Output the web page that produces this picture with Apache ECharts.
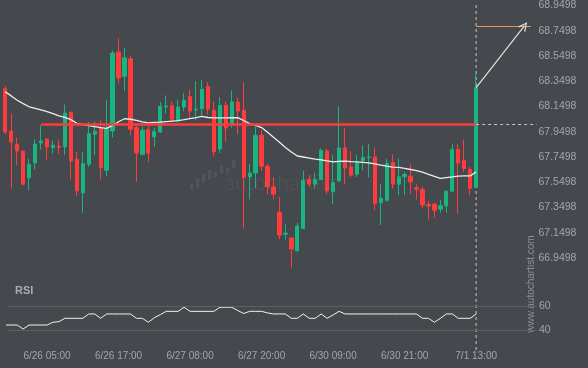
<!DOCTYPE html>
<html><head><meta charset="utf-8">
<script src="https://cdn.jsdelivr.net/npm/echarts@6/dist/echarts.min.js"></script>
<style>html,body{margin:0;padding:0;background:#45484c;}#c{width:588px;height:368px;}</style>
</head><body><div id="c"></div>
<script>
// ---- data ----
const opens = [68.291,67.956,67.851,67.796,67.585,67.703,67.861,67.893,67.825,67.835,
  67.830,68.104,67.732,67.466,67.693,67.930,67.980,67.646,67.956,68.581,
  68.389,68.528,67.983,67.772,67.967,67.909,67.948,68.146,68.157,68.035,
  68.146,68.230,68.122,68.133,68.310,68.120,67.812,68.159,68.013,68.185,
  68.120,67.592,67.624,67.922,67.677,67.513,67.313,67.139,67.108,67.008,
  67.184,67.572,67.535,67.572,67.798,67.474,67.561,67.822,67.672,67.614,
  67.719,67.746,67.751,67.387,67.408,67.706,67.535,67.593,67.598,67.506,
  67.493,67.374,67.377,67.337,67.363,67.479,67.811,67.725,67.653,67.509];
const closes = [67.948,67.869,67.798,67.535,67.693,67.851,67.877,67.830,67.843,67.825,
  68.098,67.719,67.482,67.698,67.935,67.954,67.664,67.975,68.573,68.375,
  68.536,67.969,67.782,67.962,67.782,67.954,68.151,68.154,68.049,68.146,
  68.199,68.114,68.128,68.286,68.128,67.790,68.159,67.980,68.187,68.114,
  67.588,67.624,67.922,67.677,67.513,67.456,67.131,67.147,67.021,67.203,
  67.566,67.535,67.572,67.804,67.482,67.548,67.822,67.664,67.606,67.703,
  67.746,67.750,67.382,67.422,67.700,67.535,67.593,67.612,67.553,67.495,
  67.369,67.363,67.329,67.363,67.479,67.811,67.703,67.659,67.501,68.299];
const lows = [67.930,67.501,67.685,67.527,67.487,67.651,67.809,67.725,67.777,67.777,
  67.764,67.572,67.440,67.308,67.672,67.764,67.572,67.598,67.904,68.331,
  68.272,67.922,67.553,67.764,67.711,67.830,67.940,68.094,68.033,68.027,
  68.114,68.054,68.040,68.080,68.088,67.756,67.782,67.869,67.983,67.930,
  67.184,67.414,67.501,67.640,67.456,67.414,67.098,67.098,66.873,67.000,
  67.179,67.513,67.501,67.566,67.456,67.376,67.553,67.535,67.592,67.592,
  67.645,67.588,67.329,67.211,67.395,67.501,67.448,67.448,67.456,67.414,
  67.343,67.256,67.271,67.308,67.308,67.474,67.298,67.632,67.448,67.509];
const highs = [68.310,68.094,67.904,67.804,67.738,67.888,68.001,67.893,67.882,67.888,
  68.165,68.104,67.790,67.790,68.027,68.033,68.041,68.204,68.594,68.689,
  68.615,68.555,68.015,67.993,68.001,67.983,68.185,68.238,68.191,68.204,
  68.257,68.283,68.351,68.362,68.343,68.191,68.225,68.191,68.278,68.220,
  68.343,67.693,67.993,67.962,67.693,67.588,67.434,67.218,67.118,67.229,
  67.640,67.606,67.624,67.817,67.817,67.764,68.151,67.983,67.798,67.764,
  67.843,67.856,67.825,67.535,67.735,67.772,67.738,67.632,67.693,67.535,
  67.514,67.403,67.387,67.408,67.487,67.851,67.851,67.888,67.672,68.422];
const maValues = [68.266,68.234,68.200,68.173,68.148,68.136,68.124,68.109,68.093,68.075,
  68.064,68.046,68.017,68.007,67.999,67.990,67.982,67.977,68.001,68.029,
  68.053,68.049,68.040,68.028,68.020,68.024,68.027,68.031,68.035,68.039,
  68.046,68.054,68.062,68.071,68.063,68.060,68.060,68.060,68.061,68.062,
  68.039,68.015,68.000,67.983,67.946,67.907,67.867,67.826,67.790,67.758,
  67.750,67.742,67.734,67.727,67.719,67.711,67.716,67.718,67.714,67.711,
  67.707,67.704,67.695,67.686,67.677,67.670,67.668,67.660,67.651,67.642,
  67.630,67.613,67.596,67.581,67.587,67.593,67.599,67.600,67.600,67.632];
const rsiValues = [44.4,44.4,44.4,41.1,44.4,44.4,44.4,44.4,46.7,47.2,
  50,50,50,50,53.6,53.6,50,53.6,53.6,53.6,
  53.6,53.6,50,50,46.7,50.5,53,55.8,55.8,55.8,
  59.2,55.8,55.8,55.8,55.8,55.8,59.2,59.2,59.2,56.5,
  54,55.8,55.8,55.8,54.5,53.6,53.6,53.6,50,50,
  53.6,50,50,53.6,50,52.8,55.8,53.6,53.6,53.6,
  53.6,53.6,53.6,53.6,53.6,53.6,53.6,53.6,53.6,53.6,
  50,50,46.7,50,53.6,53.6,50,50,50,53.6];
const xLabelIndex = [7,19,31,43,55,67,79];
const xLabelText = ['6/26 05:00','6/26 17:00','6/27 08:00','6/27 20:00','6/30 09:00','6/30 21:00','7/1 13:00'];
const priceAxisMin = 66.7498;
const priceAxisMax = 68.9893;
const priceTickStep = 0.2;
const levelPrice = 68.009;
const levelStartIndex = 6;
const lastIndex = 79;
const targetPrice = 68.789;
const arrowEndIndex = 87.1;
const targetLineEndIndex = 88.2;
const rsiLevels = [40, 60];

// ---- chart ----
const X_MIN = 0.2, X_MAX = 89.13;
const font = 'Liberation Sans, Arial, sans-serif';
const labelColor = '#a3a6aa';
const chart = echarts.init(document.getElementById('c'), null, {renderer: 'canvas'});
const candleData = opens.map((o, i) => [i, o, closes[i], lows[i], highs[i]]);
const arrowPath = 'path://M0,10 L5,0 L10,10 L8.6,10 L5,2.8 L1.4,10 Z';

const hiddenX = (g, min, max) => ({gridIndex: g, type: 'value', min, max, show: false, splitLine: {show: false}});
const priceLabel = v => {
  const k = Math.round((v - priceAxisMin) / priceTickStep);
  const t = priceAxisMin + k * priceTickStep;
  return (k >= 1 && t < priceAxisMax - 0.01) ? t.toFixed(4) : '';
};

chart.setOption({
  animation: false,
  backgroundColor: '#45484c',
  grid: [
    {left: 6.5, right: 51.5, top: 0, height: 283.3},
    {left: 7, right: 51, top: 294.3, height: 48},
    {left: 6.5, right: 51.5, top: 3, height: 347}
  ],
  xAxis: [
    hiddenX(0, X_MIN, X_MAX),
    {gridIndex: 1, type: 'value', min: 0.285, max: 89.21,
      axisLine: {show: false}, axisTick: {show: false}, splitLine: {show: false},
      axisLabel: {customValues: xLabelIndex, color: labelColor, fontSize: 10, fontFamily: font, margin: 9,
        formatter: v => { const k = xLabelIndex.indexOf(Math.round(v)); return k >= 0 ? xLabelText[k] : ''; }}},
    hiddenX(2, X_MIN, X_MAX)
  ],
  yAxis: [
    {gridIndex: 0, type: 'value', position: 'right', min: priceAxisMin, max: priceAxisMax, interval: priceTickStep,
      axisLine: {show: false}, axisTick: {show: false}, splitLine: {show: false},
      axisLabel: {color: labelColor, fontSize: 10.5, fontFamily: font, margin: 2, formatter: priceLabel}},
    {gridIndex: 1, type: 'value', position: 'right', min: 30, max: 70, interval: 10,
      axisLine: {show: false}, axisTick: {show: false}, splitLine: {show: false},
      axisLabel: {color: labelColor, fontSize: 10.5, fontFamily: font, margin: 2,
        formatter: v => rsiLevels.indexOf(Math.round(v)) >= 0 ? String(Math.round(v)) : ''}},
    {gridIndex: 2, type: 'value', min: 0, max: 1, show: false, splitLine: {show: false}}
  ],
  graphic: [
    {type: 'text', left: 15, top: 285, style: {text: 'RSI', fill: '#a8abb0', font: 'bold 11px ' + font}},
    {type: 'text', x: 531, y: 284, rotation: Math.PI / 2,
      style: {text: 'www.autochartist.com', fill: '#8e9195', font: '10px ' + font, align: 'center', verticalAlign: 'middle'}},
    {type: 'text', x: 224, y: 183, style: {text: 'autochartist', fill: 'rgba(255,255,255,0.07)', font: '300 22px Lato', verticalAlign: 'middle'}},
    {type: 'group', children: [
      [190,184,6],[196,178,10],[202,174,9],[208,170,10],[214,172,6],[220,165,9],[226,167,6],[232,160,8]
    ].map(b => ({type: 'rect', shape: {x: b[0], y: b[1], width: 3.2, height: b[2], r: 1}, style: {fill: 'rgba(255,255,255,0.07)'}}))}
  ],
  series: [
    {type: 'line', xAxisIndex: 2, yAxisIndex: 2, z: 1, silent: true, showSymbol: false,
      data: [[lastIndex, 0], [lastIndex, 1]],
      lineStyle: {color: '#c4c4c4', width: 1, type: [3, 3]}},
    {type: 'candlestick', xAxisIndex: 0, yAxisIndex: 0, z: 2,
      data: candleData, encode: {x: 0, y: [1, 2, 3, 4]},
      barWidth: 3.8,
      itemStyle: {color: '#17b580', color0: '#ff3b3b', borderColor: '#17b580', borderColor0: '#ff3b3b', borderWidth: 1}},
    {type: 'line', xAxisIndex: 0, yAxisIndex: 0, z: 3, silent: true, showSymbol: false,
      data: maValues.map((v, i) => [i, v]),
      lineStyle: {color: '#ececec', width: 1.3},
      markLine: {silent: true, symbol: ['none', 'none'], animation: false, label: {show: false},
        data: [
          [{coord: [levelStartIndex, levelPrice], lineStyle: {color: '#ff3b3b', width: 2.5, type: 'solid'}}, {coord: [lastIndex, levelPrice]}],
          [{coord: [lastIndex, levelPrice], lineStyle: {color: '#c4c4c4', width: 1, type: [3, 3]}}, {coord: [X_MAX, levelPrice]}],
          [{coord: [lastIndex, targetPrice], lineStyle: {color: '#e8935c', width: 1, type: 'solid'}}, {coord: [targetLineEndIndex, targetPrice]}],
          [{coord: [lastIndex, closes[lastIndex]], lineStyle: {color: '#e2e2e2', width: 1.2, type: 'solid'}},
           {coord: [arrowEndIndex, targetPrice], symbol: arrowPath, symbolSize: [9, 9]}]
        ]}},
    {type: 'line', xAxisIndex: 1, yAxisIndex: 1, silent: true, showSymbol: false,
      data: rsiValues.map((v, i) => [i, v]),
      lineStyle: {color: '#f2f2f2', width: 1},
      markLine: {silent: true, symbol: ['none', 'none'], label: {show: false},
        lineStyle: {color: '#5c605e', width: 1, type: 'solid'},
        data: rsiLevels.map(v => ({yAxis: v}))}}
  ]
});
</script></body></html>
